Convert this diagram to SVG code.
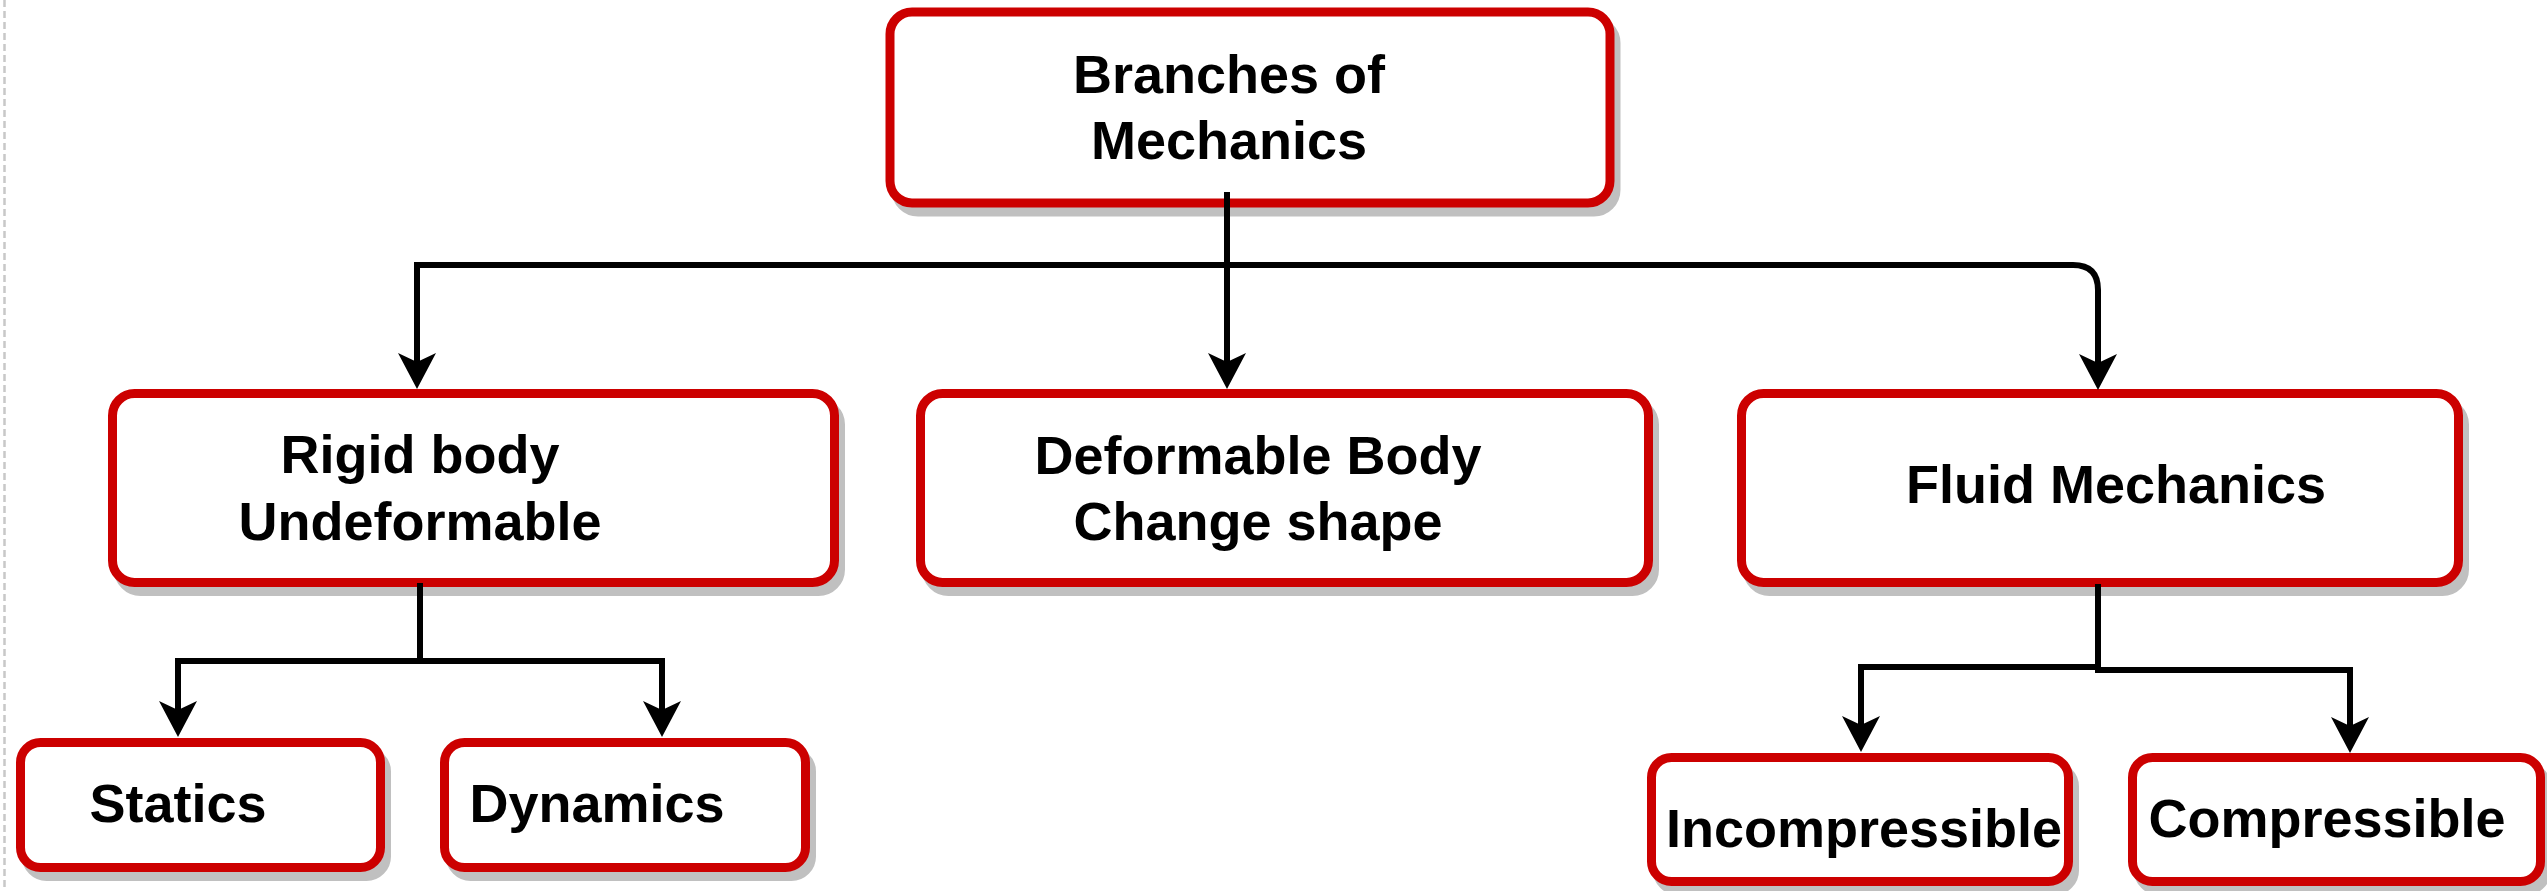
<svg xmlns="http://www.w3.org/2000/svg" width="2547" height="891" viewBox="0 0 2547 891">
  <defs>
    <style>
      .box { fill: #ffffff; stroke: #CC0000; stroke-width: 9; }
      .shadow { fill: #C0C0C0; stroke: #C0C0C0; stroke-width: 9; }
      .lbl { font-family: "Liberation Sans", Arial, Helvetica, sans-serif; font-weight: bold; font-size: 54px; fill: #000000; text-anchor: middle; }
      .edge { fill: none; stroke: #000000; stroke-width: 6; stroke-linejoin: miter; }
    </style>
    <marker id="arr" viewBox="0 0 36 38" markerWidth="36" markerHeight="38" refX="9" refY="19" orient="auto" markerUnits="userSpaceOnUse">
      <path d="M0 0 L36 19 L0 38 L9 19 Z" fill="#000000"/>
    </marker>
  </defs>
  <rect width="2547" height="891" fill="#ffffff"/>
  <line x1="4.5" y1="0" x2="4.5" y2="891" stroke="#C8C8C8" stroke-width="2.5" stroke-dasharray="7 4"/>

  <g id="node-branches">
    <rect class="shadow" x="896" y="21" width="720" height="191" rx="22"/>
    <rect class="box" x="890" y="12" width="720" height="191" rx="22"/>
    <text class="lbl" x="1229" y="93">Branches of</text>
    <text class="lbl" x="1229" y="159">Mechanics</text>
  </g>

  <g id="node-rigid">
    <rect class="shadow" x="118.5" y="402.5" width="722" height="189" rx="22"/>
    <rect class="box" x="112.5" y="393.5" width="722" height="189" rx="22"/>
    <text class="lbl" x="420" y="473">Rigid body</text>
    <text class="lbl" x="420" y="540">Undeformable</text>
  </g>

  <g id="node-deformable">
    <rect class="shadow" x="926.5" y="402.5" width="728" height="189" rx="22"/>
    <rect class="box" x="920.5" y="393.5" width="728" height="189" rx="22"/>
    <text class="lbl" x="1258" y="474">Deformable Body</text>
    <text class="lbl" x="1258" y="540">Change shape</text>
  </g>

  <g id="node-fluid">
    <rect class="shadow" x="1747.5" y="402.5" width="717" height="189" rx="22"/>
    <rect class="box" x="1741.5" y="393.5" width="717" height="189" rx="22"/>
    <text class="lbl" x="2116" y="503">Fluid Mechanics</text>
  </g>

  <g id="node-statics">
    <rect class="shadow" x="26.5" y="751.5" width="360" height="125" rx="20"/>
    <rect class="box" x="20.5" y="742.5" width="360" height="125" rx="20"/>
    <text class="lbl" x="178" y="822">Statics</text>
  </g>

  <g id="node-dynamics">
    <rect class="shadow" x="450.5" y="751.5" width="361" height="125" rx="20"/>
    <rect class="box" x="444.5" y="742.5" width="361" height="125" rx="20"/>
    <text class="lbl" x="597" y="822">Dynamics</text>
  </g>

  <g id="node-incompressible">
    <rect class="shadow" x="1657.5" y="766.5" width="417" height="124" rx="20"/>
    <rect class="box" x="1651.5" y="757.5" width="417" height="124" rx="20"/>
    <text class="lbl" x="1864" y="847">Incompressible</text>
  </g>

  <g id="node-compressible">
    <rect class="shadow" x="2138.5" y="766.5" width="408" height="124" rx="20"/>
    <rect class="box" x="2132.5" y="757.5" width="408" height="124" rx="20"/>
    <text class="lbl" x="2327" y="837">Compressible</text>
  </g>

  <g id="connectors">
    <path class="edge" d="M1227 192 V265 H417 V362" marker-end="url(#arr)"/>
    <path class="edge" d="M1227 192 V362" marker-end="url(#arr)"/>
    <path class="edge" d="M1227 265 H2073 Q2098 265 2098 290 V363" marker-end="url(#arr)"/>
    <path class="edge" d="M420 583 V661 H178 V710" marker-end="url(#arr)"/>
    <path class="edge" d="M420 661 H662 V710" marker-end="url(#arr)"/>
    <path class="edge" d="M2098 584 V667 H1861 V725" marker-end="url(#arr)"/>
    <path class="edge" d="M2098 667 V670 H2350 V726" marker-end="url(#arr)"/>
  </g>
</svg>
